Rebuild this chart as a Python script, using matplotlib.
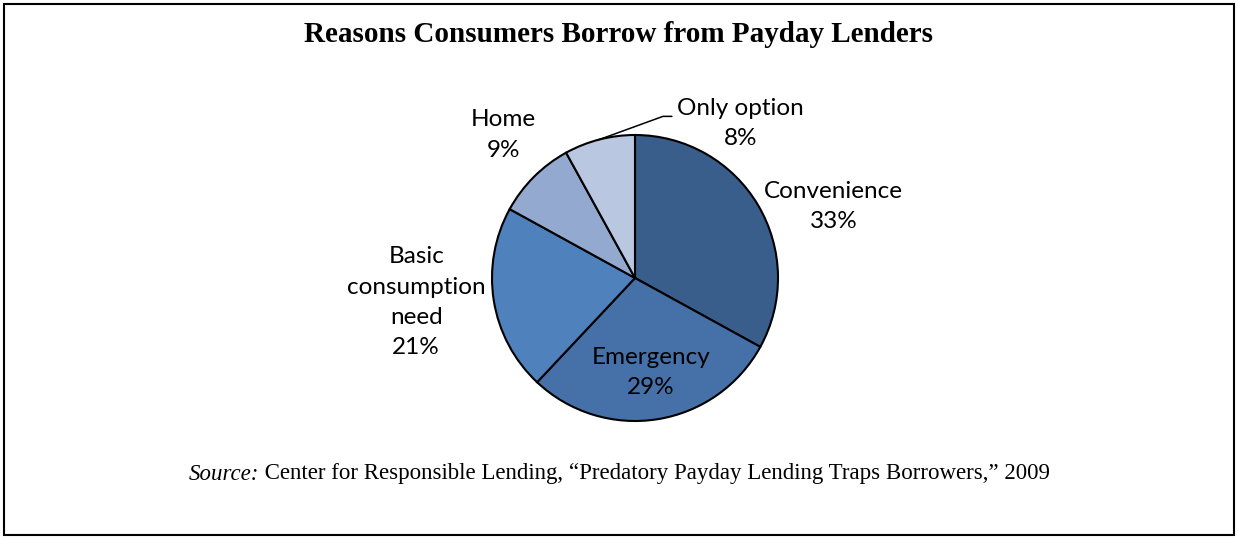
import numpy as np
import matplotlib.pyplot as plt
from matplotlib.patches import Rectangle

reasons = ["Convenience", "Emergency", "Basic\nconsumption\nneed", "Home", "Only option"]
shares = [33, 29, 21, 9, 8]
colors = ["#395E8C", "#4570A8", "#4F81BD", "#93A9CF", "#B9C7E0"]
# label placement relative to pie radius (x, y), style only
label_pos = [(1.39, 0.50), (0.11, -0.66), (-1.53, -0.17), (-0.92, 1.0), (0.74, 1.08)]

W, H = 1238, 539
fig = plt.figure(figsize=(W / 100, H / 100), dpi=100)
fig.patches.append(Rectangle((4 / W, 4 / H), 1 - 8 / W, 1 - 8 / H, transform=fig.transFigure,
                             fill=False, ec="black", lw=1.5))

cx, cy, r = 635, 539 - 278, 143
ax = fig.add_axes([(cx - r) / W, (cy - r) / H, 2 * r / W, 2 * r / H])
wedges, _ = ax.pie(shares, colors=colors, startangle=90, counterclock=False,
                   wedgeprops=dict(edgecolor="black", linewidth=1.5))
ax.set_xlim(-1, 1)
ax.set_ylim(-1, 1)
ax.axis("off")

lbl = dict(ha="center", va="center", fontsize=17.5, family="Lato", linespacing=1.55)
for w, name, val, (lx, ly) in zip(wedges, reasons, shares, label_pos):
    txt = f"{name}\n{val}%"
    if name == "Only option":
        mid = np.deg2rad((w.theta1 + w.theta2) / 2)
        ax.annotate(txt, xy=(np.cos(mid), np.sin(mid)), xytext=(lx, ly),
                    annotation_clip=False,
                    arrowprops=dict(arrowstyle="-", color="black", lw=1.1,
                                    shrinkA=2, shrinkB=0, relpos=(0, 0.64),
                                    connectionstyle="angle,angleA=0,angleB=20,rad=0"),
                    **lbl)
    else:
        ax.text(lx, ly, txt, clip_on=False, **lbl)

fig.text(0.5, 1 - 35 / H, "Reasons Consumers Borrow from Payday Lenders", ha="center",
         va="center", fontsize=21, fontweight="bold", family="Liberation Serif")

# source line: italic lead-in + regular text, centred together
src_y = 1 - 474 / H
t1 = fig.text(0, src_y, "Source:", ha="left", va="center", fontsize=16.5,
              family="Liberation Serif", style="italic")
t2 = fig.text(0, src_y, " Center for Responsible Lending, “Predatory Payday Lending Traps Borrowers,” 2009",
              ha="left", va="center", fontsize=16.5, family="Liberation Serif")
rend = fig.canvas.get_renderer()
w1 = t1.get_window_extent(rend).width / W
w2 = t2.get_window_extent(rend).width / W
x0 = 0.5 - (w1 + w2) / 2
t1.set_x(x0)
t2.set_x(x0 + w1)

fig.savefig("out.png", dpi=100)
